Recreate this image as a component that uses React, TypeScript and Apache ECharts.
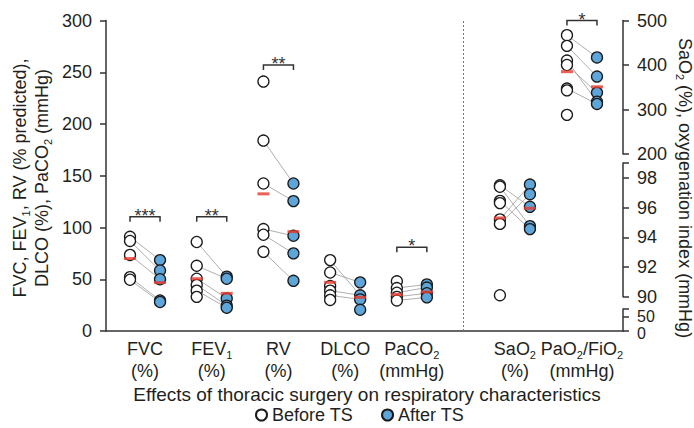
import React, { useEffect, useRef } from 'react';
import * as echarts from 'echarts';

// ---- categories (subscripts marked with _) ----
const categories = ['FVC', 'FEV_1', 'RV', 'DLCO', 'PaCO_2', 'SaO_2', 'PaO_2/FiO_2'];
const categoryUnits = ['(%)', '(%)', '(%)', '(%)', '(mmHg)', '(%)', '(mmHg)'];

// ---- values ----
const fvcBefore = [91, 87, 73.5, 52, 49.5];
const fvcAfter = [68.5, 58.5, 50, 29.5, 28];
const fvcMean = [70, 46.7];
const fvcPairs = [[0, 0], [1, 1], [2, 2], [3, 3], [4, 4]];

const fev1Before = [86, 63, 50.5, 44.5, 39, 33];
const fev1After = [52.5, 50.5, 31.5, 24.5, 22.5];
const fev1Mean = [50.5, 36.4];
const fev1Pairs = [[0, 0], [1, 1], [2, 2], [3, 3], [4, 4]];

const rvBefore = [241, 184, 142.5, 98.5, 93, 76.5];
const rvAfter = [142.5, 125.5, 92, 75, 48.5];
const rvMean = [132.5, 96];
const rvPairs = [[1, 0], [2, 1], [3, 2], [4, 3], [5, 4]];

const dlcoBefore = [68.5, 56.5, 43.5, 39, 34.5, 30];
const dlcoAfter = [47, 34.5, 30.5, 20.5];
const dlcoMean = [47, 32.5];
const dlcoPairs = [[0, 1], [1, 0], [3, 1], [4, 2]];

const paco2Before = [48, 41.5, 37, 33, 29.5];
const paco2After = [45, 42, 36.5, 32.5];
const paco2Mean = [35.3, 37.7];
const paco2Pairs = [[1, 0], [2, 1], [3, 2], [4, 3]];

const sao2Before = [97.5, 97.4, 96.45, 96.3, 95.2, 94.9, 90.1];
const sao2After = [97.55, 96.9, 96.05, 94.75, 94.55];
const sao2Mean = [95.3, 95.95];
const sao2Pairs = [[0, 2], [1, 3], [2, 4], [4, 0], [5, 1]];

const pfBefore = [467, 443, 410, 400, 347, 343, 288];
const pfAfter = [417, 374, 338, 317.5, 312.5];
const pfMean = [385, 351];
const pfPairs = [[0, 0], [1, 1], [2, 3], [3, 2], [4, 4]];

// significance annotations: category index, label, bracket height (in that group's axis units)
const sigGroups = [0, 1, 2, 4, 6];
const sigLabels = ['***', '**', '**', '*', '*'];
const sigHeights = [110.5, 110.5, 257, 81, 500];

// axis tick settings
const leftTicks = { min: 0, max: 300, interval: 50 };
const pfTicks = { min: 200, max: 500, interval: 100 };
const saTicks = { min: 90, max: 99, interval: 2 };
const lowTicks = { min: 0, max: 75, interval: 50 };

// ---- layout ----
const FONT = 'Liberation Sans, Arial, Helvetica, sans-serif';
const TEXT = '#231f20';
const AXIS = '#333';
const BLUE = '#5ea5da';
const RED = '#e5392e';
const categoryX = [0.585, 1.585, 2.585, 3.585, 4.585, 6.13, 7.135];
const separatorX = 5.35;
const X_MAX = 7.75;
const OFFSET = 0.225;

const groups = [
  { before: fvcBefore, after: fvcAfter, mean: fvcMean, pairs: fvcPairs, axis: 0 },
  { before: fev1Before, after: fev1After, mean: fev1Mean, pairs: fev1Pairs, axis: 0 },
  { before: rvBefore, after: rvAfter, mean: rvMean, pairs: rvPairs, axis: 0 },
  { before: dlcoBefore, after: dlcoAfter, mean: dlcoMean, pairs: dlcoPairs, axis: 0 },
  { before: paco2Before, after: paco2After, mean: paco2Mean, pairs: paco2Pairs, axis: 0 },
  { before: sao2Before, after: sao2After, mean: sao2Mean, pairs: sao2Pairs, axis: 2 },
  { before: pfBefore, after: pfAfter, mean: pfMean, pairs: pfPairs, axis: 1 },
];

function toRich(s: string): string {
  const parts = s.split(/_(\d)/);
  let out = '';
  parts.forEach((p, i) => {
    if (i % 2 === 1) out += `{s|${p}}`;
    else if (p) out += `{a|${p}}`;
  });
  return out;
}

const richStyles = (size: number) => ({
  a: { fontSize: size, lineHeight: 22, align: 'center', fontFamily: FONT, color: TEXT, fill: TEXT },
  s: { fontSize: 11, lineHeight: 12, verticalAlign: 'bottom', align: 'center', fontFamily: FONT, color: TEXT, fill: TEXT },
});

function buildOption() {
  const series: any[] = [];
  [0, 1, 2].forEach((ax) => {
    const gs = groups.map((g, i) => ({ ...g, i })).filter((g) => g.axis === ax);
    const lineData: any[] = [];
    const beforeData: number[][] = [];
    const afterData: number[][] = [];
    const meanData: number[][] = [];
    gs.forEach((g) => {
      const xb = categoryX[g.i] - OFFSET;
      const xa = categoryX[g.i] + OFFSET;
      g.pairs.forEach(([b, a]) => lineData.push({ coords: [[xb, g.before[b]], [xa, g.after[a]]] }));
      g.before.forEach((v) => beforeData.push([xb, v]));
      g.after.forEach((v) => afterData.push([xa, v]));
      meanData.push([xb, g.mean[0]], [xa, g.mean[1]]);
    });
    const lines: any = {
      type: 'lines',
      coordinateSystem: 'cartesian2d',
      xAxisIndex: ax,
      yAxisIndex: ax,
      silent: true,
      z: 1,
      lineStyle: { color: '#9a9a9a', width: 0.8, opacity: 1 },
      data: lineData,
    };
    if (ax === 0) {
      lines.markLine = {
        silent: true,
        symbol: 'none',
        label: { show: false },
        lineStyle: { color: '#777', type: [2, 2], width: 1 },
        data: [{ xAxis: separatorX }],
      };
    }
    series.push(lines);
    series.push({
      type: 'scatter', name: 'Before TS', xAxisIndex: ax, yAxisIndex: ax, z: 2,
      symbol: 'circle', symbolSize: 11,
      itemStyle: { color: '#fff', borderColor: '#1a1a1a', borderWidth: 1.3, opacity: 1 },
      data: beforeData,
    });
    series.push({
      type: 'scatter', name: 'After TS', xAxisIndex: ax, yAxisIndex: ax, z: 2,
      symbol: 'circle', symbolSize: 11,
      itemStyle: { color: BLUE, borderColor: '#1a1a1a', borderWidth: 1.3, opacity: 1 },
      data: afterData,
    });
    series.push({
      type: 'scatter', name: 'Mean', xAxisIndex: ax, yAxisIndex: ax, z: 3,
      symbol: 'rect', symbolSize: [12, 3],
      itemStyle: { color: RED },
      data: meanData,
    });
    const sigIdx = sigGroups.map((g, k) => ({ g, k })).filter((o) => groups[o.g].axis === ax);
    if (sigIdx.length) {
      series.push({
        type: 'custom', xAxisIndex: ax, yAxisIndex: ax, z: 4, silent: true, clip: false,
        data: sigIdx.map((o) => [categoryX[o.g], sigHeights[o.k], o.k]),
        renderItem: (_p: any, api: any) => {
          const xc = api.value(0);
          const h = api.value(1);
          const k = api.value(2);
          const p1 = api.coord([xc - OFFSET, h]);
          const p2 = api.coord([xc + OFFSET, h]);
          return {
            type: 'group',
            children: [
              {
                type: 'polyline',
                shape: { points: [[p1[0], p1[1] + 5], [p1[0], p1[1]], [p2[0], p2[1]], [p2[0], p2[1] + 5]] },
                style: { stroke: AXIS, lineWidth: 1.5, fill: 'none' },
              },
              {
                type: 'text', x: (p1[0] + p2[0]) / 2, y: p1[1] - 1,
                style: { text: sigLabels[k], fontSize: 18, fontFamily: FONT, fill: AXIS, align: 'center', verticalAlign: 'middle' },
              },
            ],
          };
        },
      });
    }
  });

  const axisLine = { show: true, onZero: false, lineStyle: { color: AXIS, width: 1.5 } };
  const axisTick = { show: true, length: 6, lineStyle: { color: AXIS, width: 1.5 } };
  const label = (margin: number, formatter?: any, extra?: any) => ({
    color: TEXT, fontSize: 18, fontFamily: FONT, margin,
    ...(formatter ? { formatter } : {}),
    ...(extra || {}),
  });

  const lowGrid = { left: 106, top: 309, width: 517, height: 22 };
  const grids = [
    { left: 106, top: 20.5, width: 517, height: 310.5 },
    { left: 106, top: 20.5, width: 517, height: 133.5 },
    { left: 106, top: 163, width: 517, height: 133.7 },
    lowGrid,
    { ...lowGrid, top: 311.5 },
  ];

  const xAxis: any[] = grids.map((_, i) => ({
    gridIndex: i, type: 'value', min: 0, max: X_MAX, show: i === 0,
    axisLine: { show: true, onZero: false, lineStyle: { color: AXIS, width: 1.5 } },
    axisTick: { show: false },
    splitLine: { show: false },
    axisLabel: {
      show: i === 0,
      customValues: categoryX,
      margin: 7,
      formatter: (v: number) => {
        const idx = categoryX.findIndex((c) => Math.abs(c - v) < 1e-6);
        if (idx < 0) return '';
        return toRich(categories[idx]) + '\n' + toRich(categoryUnits[idx]);
      },
      rich: richStyles(18),
    },
  }));

  const yAxis: any[] = [
    { gridIndex: 0, type: 'value', position: 'left', ...leftTicks, axisLine, axisTick, splitLine: { show: false }, axisLabel: label(14) },
    { gridIndex: 1, type: 'value', position: 'right', ...pfTicks, axisLine, axisTick, splitLine: { show: false }, axisLabel: label(14) },
    {
      gridIndex: 2, type: 'value', position: 'right', ...saTicks, axisLine, axisTick, splitLine: { show: false },
      axisLabel: label(14, (v: number) => (v % saTicks.interval === 0 ? String(v) : '')),
    },
    {
      // upper part of the low axis segment: shows the 50 label
      gridIndex: 3, type: 'value', position: 'right', ...lowTicks, axisLine, axisTick, splitLine: { show: false },
      axisLabel: label(14, (v: number) => (v % lowTicks.interval === 0 && v !== lowTicks.min ? String(v) : ''),
        { fontSize: 16, lineHeight: 16 }),
    },
    {
      // the 0 label of the low axis segment (kept apart so both labels stay visible)
      gridIndex: 4, type: 'value', position: 'right', ...lowTicks,
      axisLine: { show: false }, axisTick: { show: false }, splitLine: { show: false },
      axisLabel: label(14, (v: number) => (v === lowTicks.min ? String(v) : ''),
        { fontSize: 16, lineHeight: 16 }),
    },
  ];

  return {
    animation: false,
    backgroundColor: '#fff',
    textStyle: { fontFamily: FONT },
    grid: grids,
    xAxis,
    yAxis,
    legend: {
      data: ['Before TS', 'After TS'],
      left: 250, top: 401,
      itemWidth: 11, itemHeight: 11, itemGap: 28,
      icon: 'circle',
      textStyle: { fontSize: 18, color: TEXT, fontFamily: FONT },
    },
    graphic: [
      {
        type: 'text', x: 31, y: 178, rotation: Math.PI / 2,
        style: {
          text: toRich('FVC, FEV_1, RV (% predicted),') + '\n' + toRich('DLCO (%), PaCO_2 (mmHg)'),
          rich: richStyles(18), align: 'center', verticalAlign: 'middle', fill: TEXT, fontFamily: FONT,
        },
      },
      {
        type: 'text', x: 685, y: 188, rotation: -Math.PI / 2,
        style: {
          text: toRich('SaO_2 (%), oxygenation index (mmHg)'),
          rich: richStyles(18), align: 'center', verticalAlign: 'middle', fill: TEXT, fontFamily: FONT,
        },
      },
      {
        type: 'text', x: 367, y: 394,
        style: {
          text: 'Effects of thoracic surgery on respiratory characteristics',
          fontSize: 19, fontFamily: FONT, fill: TEXT, align: 'center', verticalAlign: 'middle',
        },
      },
    ],
    series,
  };
}

export default function App() {
  const ref = useRef<HTMLDivElement>(null);
  useEffect(() => {
    if (!ref.current) return;
    const chart = echarts.init(ref.current, undefined, { renderer: 'svg' });
    chart.setOption(buildOption() as any);
    return () => chart.dispose();
  }, []);
  return <div ref={ref} style={{ position: 'fixed', left: 0, top: 0, width: 694, height: 428, background: '#fff' }} />;
}
